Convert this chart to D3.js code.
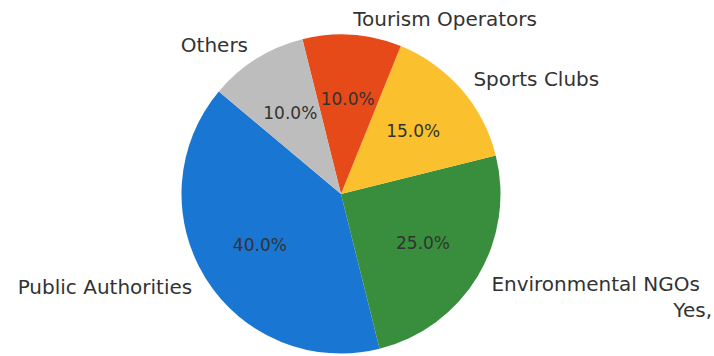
<!DOCTYPE html>
<html>
<head>
<meta charset="utf-8">
<script src="https://cdn.jsdelivr.net/npm/d3@7"></script>
<style>
  html, body { margin: 0; padding: 0; background: #fff; }
  svg { display: block; font-family: "DejaVu Sans", sans-serif; }
</style>
</head>
<body>
<svg id="chart" width="714" height="356"></svg>
<script>
// Stakeholder shares (percent), in drawing order (counter-clockwise from 140°)
const categories = ["Public Authorities", "Environmental NGOs", "Sports Clubs", "Tourism Operators", "Others"];
const shares = [40, 25, 15, 10, 10];
const sliceColors = ["#1976D2", "#388E3C", "#FBC02D", "#E64A19", "#BDBDBD"];
const footnote = "Yes,";

const svg = d3.select("#chart");
const cx = 341, cy = 194, r = 159.5;

// Start at 140° (math convention, counter-clockwise); d3 angles run clockwise from 12 o'clock
const start = (90 - 140) * Math.PI / 180;
const pie = d3.pie().sort(null).value(d => d)
  .startAngle(start).endAngle(start - 2 * Math.PI);
const arcs = pie(shares);
const total = d3.sum(shares);

const arc = d3.arc().innerRadius(0).outerRadius(r);
const g = svg.append("g").attr("transform", `translate(${cx},${cy})`);

g.selectAll("path.slice").data(arcs).join("path")
  .attr("class", "slice")
  .attr("d", arc)
  .attr("fill", (d, i) => sliceColors[i]);

const mid = d => (d.startAngle + d.endAngle) / 2;

// Percentage labels at 0.6 r
const fmt = d3.format(".1f");
g.selectAll("text.pct").data(arcs).join("text")
  .attr("class", "pct")
  .attr("x", d => 0.6 * r * Math.sin(mid(d)))
  .attr("y", d => -0.6 * r * Math.cos(mid(d)))
  .attr("text-anchor", "middle")
  .attr("dominant-baseline", "central")
  .attr("font-size", 17)
  .attr("fill", "#333")
  .text(d => fmt(d.value / total * 100) + "%");

// Category labels at 1.1 r
g.selectAll("text.cat").data(arcs).join("text")
  .attr("class", "cat")
  .attr("x", d => 1.1 * r * Math.sin(mid(d)))
  .attr("y", d => -1.1 * r * Math.cos(mid(d)))
  .attr("text-anchor", d => Math.sin(mid(d)) > 0 ? "start" : "end")
  .attr("dominant-baseline", "central")
  .attr("font-size", 20)
  .attr("fill", "#333")
  .text((d, i) => categories[i]);

svg.append("text")
  .attr("x", 712).attr("y", 310)
  .attr("text-anchor", "end")
  .attr("dominant-baseline", "central")
  .attr("font-size", 20)
  .attr("fill", "#333")
  .text(footnote);
</script>
</body>
</html>
